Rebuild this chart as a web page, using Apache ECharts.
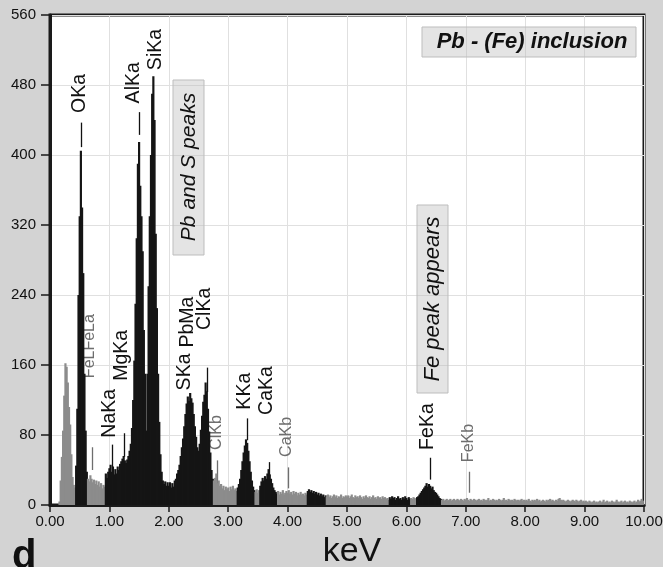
<!DOCTYPE html>
<html>
<head>
<meta charset="utf-8">
<script src="https://cdn.jsdelivr.net/npm/echarts@6/dist/echarts.min.js"></script>
<style>
html,body{margin:0;padding:0;background:#d3d3d3;}
#c{width:663px;height:567px;}
</style>
</head>
<body>
<div id="c"></div>
<script>
// ---- DATA ----
const channelStep = 0.02; // keV per channel
const spec0 = [0,0,0,0,0,0,0,0,4,28, 55,85,125,162,158,140,112,92,58,32, 23,20,45,110,240,330,405,340,265,150, 85,38,30,27,34,30,26,29,24,28, 23,27,21,25,19,23,21,36,31,38];
const spec1 = [42,46,38,44,35,41,36,44,40,47, 50,53,56,51,48,52,56,62,70,88, 120,165,230,305,390,415,365,330,290,200, 150,85,150,250,330,400,470,490,440,310, 225,150,95,58,38,28,24,27,22,26];
const spec2 = [22,26,20,25,21,28,30,36,40,46, 56,66,76,90,104,116,124,119,128,122, 117,104,90,78,66,62,70,86,102,118, 126,140,130,110,84,60,40,30,28,31, 36,25,28,22,24,19,22,17,21,18];
const spec3 = [20,16,21,18,22,17,19,16,20,24, 30,40,50,60,68,75,71,62,50,38, 28,21,17,15,18,14,17,22,27,31, 28,33,30,36,41,35,30,25,20,17, 15,13,16,12,15,13,17,12,14,16];
const spec4 = [14,17,13,15,12,16,13,15,11,14, 12,15,12,13,11,14,12,16,18,15, 17,14,16,13,15,12,14,11,13,10, 12,9,11,10,12,9,11,8,10,12, 9,11,8,10,9,12,8,10,9,11];
const spec5 = [9,11,8,10,12,9,8,11,9,10, 8,11,9,7,10,8,11,9,8,10, 7,9,11,8,9,7,10,8,9,7, 10,8,9,7,8,6,9,7,10,8, 9,6,8,10,7,8,6,9,7,10];
const spec6 = [8,6,9,7,8,7,9,8,7,9, 10,12,14,16,18,20,22,25,21,24, 22,19,21,17,15,14,12,10,8,7, 6,7,5,6,7,5,6,7,5,6, 7,5,6,7,6,5,7,6,5,7];
const spec7 = [6,8,6,5,7,6,5,7,6,5, 6,7,5,6,5,7,6,5,6,8, 5,6,5,7,6,5,6,5,7,6, 5,6,8,5,6,5,7,6,5,6, 5,7,6,5,6,5,6,7,5,6];
const spec8 = [5,6,5,7,5,4,6,5,6,5, 7,5,6,4,5,6,5,4,6,5, 6,7,5,6,5,4,6,5,7,8, 6,5,6,5,4,5,6,5,4,5, 6,5,4,6,5,4,5,6,4,5];
const spec9 = [4,5,4,3,5,4,3,4,5,3, 4,3,4,5,3,4,6,3,4,5, 3,4,3,5,4,3,4,6,4,3, 4,5,3,4,5,3,4,3,5,4, 3,4,5,3,4,6,4,5,7,5];
// energy windows (keV) of the peak regions (drawn black)
const peakWindows = [[0.43,0.63],[0.93,2.75],[3.15,3.45],[3.53,3.83],[4.33,4.65],[5.71,6.07],[6.17,6.59]];

// element markers
const markerNames = ['OKa','FeLFeLa','NaKa','MgKa','AlKa','SiKa','SKa','PbMa','ClKa','ClKb','KKa','CaKa','CaKb','FeKa','FeKb'];
const markerMajor = [true,false,true,true,true,true,true,true,true,false,true,true,false,true,false];
const markerLineKeV = [0.525,0.70,1.04,1.25,1.49,null,null,null,2.64,2.81,3.31,3.69,4.01,6.40,7.05];
const markerLineLow = [409,40,40,55,423,null,null,null,129,21,74,17,19,29,14];
const markerLineHigh = [437,66,69,82,449,null,null,null,157,51,99,49,43,54,38];
const markerTextKeV = [0.505,0.66,1.01,1.21,1.40,1.77,2.27,2.32,2.61,2.81,3.28,3.65,3.99,6.36,7.04];
const markerTextBase = [448,145,77,142,459,497,131,180,200,63,109,103,55,63,49];

const yTicks = [0,80,160,240,320,400,480,560];
const xTicks = [0,1,2,3,4,5,6,7,8,9,10];

// ---- BUILD ----
const spectrum = [].concat(spec0,spec1,spec2,spec3,spec4,spec5,spec6,spec7,spec8,spec9,[0]);
const barData = spectrum.map((v,i)=>[+(i*channelStep).toFixed(2), v]);
function inPeak(e){ return peakWindows.some(w=>e>=w[0]&&e<=w[1]); }
const markerData = markerNames.map((n,i)=>[markerTextKeV[i], markerTextBase[i]]);

const FONT = "'Liberation Sans', Arial, Helvetica, sans-serif";
const chart = echarts.init(document.getElementById('c'), null, {renderer:'canvas'});
chart.setOption({
  backgroundColor:'#d3d3d3',
  animation:false,
  grid:{left:50,right:19,top:15,bottom:62,show:true,backgroundColor:'#ffffff',borderColor:'#1a1a1a',borderWidth:3,
        containLabel:false,outerBoundsMode:'none'},
  xAxis:{
    type:'value',min:xTicks[0],max:xTicks[xTicks.length-1],interval:1,
    name:'keV',nameLocation:'middle',nameGap:30,
    nameTextStyle:{fontFamily:FONT,fontSize:34,color:'#111',padding:[0,0,0,10]},
    axisLine:{show:true,lineStyle:{color:'#1a1a1a',width:3}},
    axisTick:{show:true,length:7,lineStyle:{color:'#1a1a1a',width:1.5}},
    axisLabel:{fontFamily:FONT,fontSize:15,color:'#111',margin:9,formatter:v=>v.toFixed(2)},
    splitLine:{show:true,lineStyle:{color:'#e0e0e0',width:1}}
  },
  yAxis:{
    type:'value',min:yTicks[0],max:yTicks[yTicks.length-1],interval:80,
    axisLine:{show:true,lineStyle:{color:'#1a1a1a',width:3}},
    axisTick:{show:true,length:9,lineStyle:{color:'#1a1a1a',width:1.5}},
    axisLabel:{fontFamily:FONT,fontSize:15,color:'#111',margin:14},
    splitLine:{show:true,lineStyle:{color:'#e0e0e0',width:1}}
  },
  series:[
    {
      type:'custom',name:'markers',z:1,clip:false,
      data:markerData,
      renderItem:function(params,api){
        const i = params.dataIndex;
        const col = markerMajor[i] ? '#111111' : '#6e6e6e';
        const children = [];
        if(markerLineKeV[i]!==null){
          const a = api.coord([markerLineKeV[i], markerLineLow[i]]);
          const b = api.coord([markerLineKeV[i], markerLineHigh[i]]);
          children.push({type:'line',shape:{x1:Math.round(a[0])+0.5,y1:a[1],x2:Math.round(b[0])+0.5,y2:b[1]},style:{stroke:col,lineWidth:1.3}});
        }
        const t = api.coord([api.value(0), api.value(1)]);
        children.push({type:'text',x:t[0],y:t[1],rotation:Math.PI/2,
          style:{text:markerNames[i],fill:col,font:(markerMajor[i]?'19.5px ':'16px ')+FONT,align:'left',verticalAlign:'middle'}});
        return {type:'group',children:children};
      }
    },
    {
      type:'custom',name:'spectrum',z:2,clip:true,
      data:barData,
      renderItem:function(params,api){
        const e = api.value(0), v = api.value(1);
        if(!v) return null;
        const l = api.coord([e - channelStep/2, v]);
        const r = api.coord([e + channelStep/2, 0]);
        return {type:'rect',shape:{x:l[0]-0.5,y:l[1],width:(r[0]-l[0])+1,height:r[1]-l[1]},
          style:{fill: inPeak(e) ? '#151515' : '#8c8c8c'}};
      }
    }
  ],
  graphic:[
    {type:'rect',shape:{x:173,y:80,width:31,height:175},style:{fill:'rgba(185,185,185,0.38)',stroke:'#bdbdbd',lineWidth:1},z:5},
    {type:'text',x:189,y:167,rotation:Math.PI/2,style:{text:'Pb and S peaks',font:'italic 21px '+FONT,fill:'#111',align:'center',verticalAlign:'middle'},z:6},
    {type:'rect',shape:{x:417,y:205,width:31,height:188},style:{fill:'rgba(185,185,185,0.38)',stroke:'#bdbdbd',lineWidth:1},z:5},
    {type:'text',x:433,y:299,rotation:Math.PI/2,style:{text:'Fe peak appears',font:'italic 22px '+FONT,fill:'#111',align:'center',verticalAlign:'middle'},z:6},
    {type:'rect',shape:{x:422,y:27,width:214,height:30},style:{fill:'rgba(185,185,185,0.38)',stroke:'#bdbdbd',lineWidth:1},z:5},
    {type:'text',x:532,y:42,style:{text:'Pb - (Fe) inclusion',font:'italic bold 22px '+FONT,fill:'#111',align:'center',verticalAlign:'middle'},z:6},
    {type:'text',x:12,y:537,style:{text:'d',font:'bold 40px '+FONT,fill:'#111',align:'left',verticalAlign:'top'},z:6}
  ]
});
</script>
</body>
</html>
